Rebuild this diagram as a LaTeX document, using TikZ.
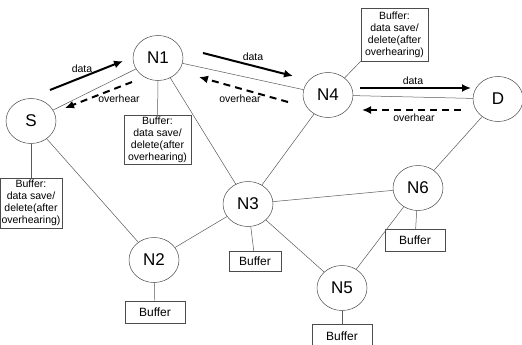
\documentclass[tikz,border=0pt]{standalone}
\usepackage{fontspec}
\setmainfont{Liberation Sans}
\usetikzlibrary{shapes.geometric,arrows.meta}
\tikzset{
  netnode/.style={ellipse,draw=black!70,line width=0.5pt,minimum width=50pt,minimum height=45pt,inner sep=0pt,font=\fontsize{17}{17}\selectfont},
  bufbox/.style={rectangle,draw=black!70,line width=0.5pt,inner sep=0pt,align=center,font=\fontsize{10.5}{12}\selectfont},
  link/.style={draw=black!65,line width=0.5pt},
  dataarrow/.style={line width=2pt,-{Latex[length=9pt,width=8pt]}},
  heararrow/.style={line width=2pt,dash pattern=on 7pt off 5pt,-{Latex[length=9pt,width=8pt]}},
  lbl/.style={font=\fontsize{10.5}{10.5}\selectfont,inner sep=0pt},
}
\begin{document}
\begin{tikzpicture}[x=1pt,y=-1pt]
\useasboundingbox (0,0) rectangle (522,345);

% network nodes
\node[netnode] (S)  at (31,121)  {S};
\node[netnode] (N1) at (158,58)  {N1};
\node[netnode] (N4) at (328,95)  {N4};
\node[netnode] (D)  at (498,99)  {D};
\node[netnode] (N3) at (248,204) {N3};
\node[netnode] (N2) at (154,260) {N2};
\node[netnode] (N6) at (418,188) {N6};
\node[netnode] (N5) at (342,288) {N5};

% buffers
\node[bufbox,minimum width=62pt,minimum height=50pt] (bS)  at (31,203)    {Buffer:\\data save/\\delete(after\\overhearing)};
\node[bufbox,minimum width=67pt,minimum height=49pt] (bN1) at (157.5,139.5) {Buffer:\\data save/\\delete(after\\overhearing)};
\node[bufbox,minimum width=67pt,minimum height=53pt] (bN4) at (394.5,34.5)  {Buffer:\\data save/\\delete(after\\overhearing)};
\node[bufbox,minimum width=60pt,minimum height=22pt,font=\fontsize{12}{12}\selectfont] (bN2) at (155,312) {Buffer};
\node[bufbox,minimum width=52pt,minimum height=20pt,font=\fontsize{12}{12}\selectfont] (bN3) at (255,261) {Buffer};
\node[bufbox,minimum width=60pt,minimum height=22pt,font=\fontsize{12}{12}\selectfont] (bN6) at (415,240) {Buffer};
\node[bufbox,minimum width=60pt,minimum height=24pt,font=\fontsize{12}{12}\selectfont] (bN5) at (342,336) {Buffer};

% links between nodes
\draw[link] (S) -- (N1);
\draw[link] (S) -- (N2);
\draw[link] (N1) -- (N4);
\draw[link] (N1) -- (N3);
\draw[link] (N4) -- (N3);
\draw[link] (N4) -- (D);
\draw[link] (D) -- (N6);
\draw[link] (N3) -- (N2);
\draw[link] (N3) -- (N6);
\draw[link] (N3) -- (N5);
\draw[link] (N6) -- (N5);

% links to buffers
\draw[link] (S) -- (bS);
\draw[link] (N1) -- (bN1);
\draw[link] (N4) -- (bN4.south west);
\draw[link] (N2) -- (bN2);
\draw[link] (N3) -- (bN3);
\draw[link] (N6) -- (bN6);
\draw[link] (N5) -- (bN5);

% data / overhear arrows
\coordinate (a1s) at (50,90);   \coordinate (a1e) at (123,61);
\coordinate (h1s) at (132,82);  \coordinate (h1e) at (65,108);
\coordinate (a2s) at (203,53);  \coordinate (a2e) at (293,76);
\coordinate (h2s) at (288,102); \coordinate (h2e) at (199,77);
\coordinate (a3s) at (360,88);  \coordinate (a3e) at (471,88);
\coordinate (h3s) at (461,110); \coordinate (h3e) at (362,110);

\draw[dataarrow] (a1s) -- (a1e);
\draw[heararrow] (h1s) -- (h1e);
\draw[dataarrow] (a2s) -- (a2e);
\draw[heararrow] (h2s) -- (h2e);
\draw[dataarrow] (a3s) -- (a3e);
\draw[heararrow] (h3s) -- (h3e);

\node[lbl] (l1) at (82,69)   {data};
\node[lbl] (l2) at (119,99)  {overhear};
\node[lbl] (l3) at (253,57)  {data};
\node[lbl] (l4) at (240,99)  {overhear};
\node[lbl] (l5) at (413,81)  {data};
\node[lbl] (l6) at (414,118) {overhear};
\end{tikzpicture}
\end{document}
